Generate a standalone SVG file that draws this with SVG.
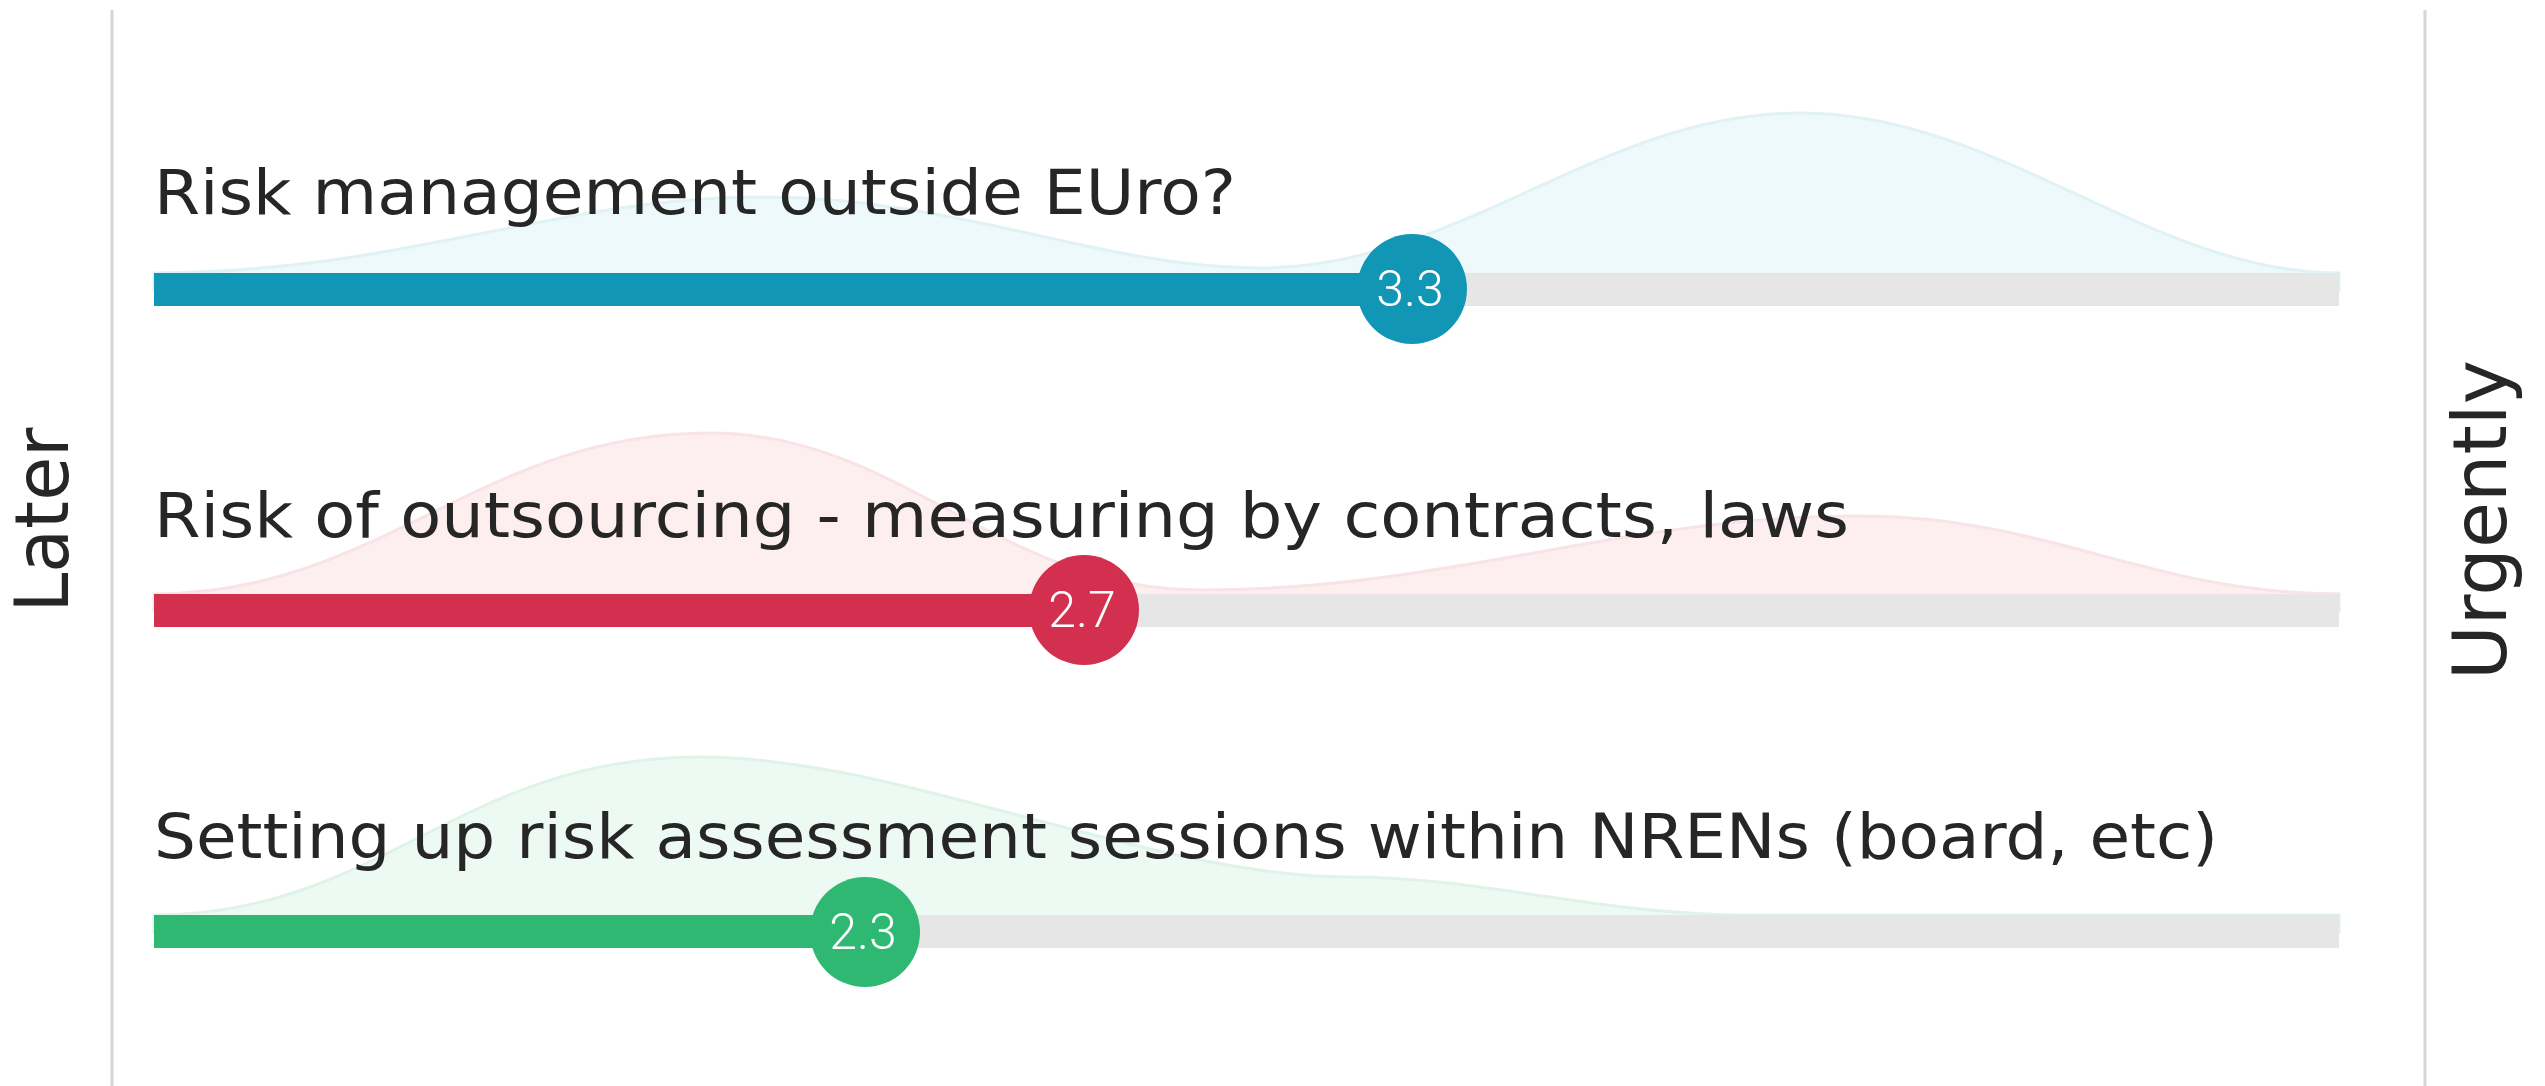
<svg xmlns="http://www.w3.org/2000/svg" width="2545" height="1086" viewBox="0 0 2545 1086">
  <style>
    .axis { stroke: #d6d6d6; stroke-width: 3; fill: none; }
    .side { font-family: "DejaVu Sans", "Liberation Sans", sans-serif; font-size: 74px; fill: #262626; }
    .label { font-family: "DejaVu Sans", "Liberation Sans", sans-serif; font-size: 62px; fill: #262626; }
    .track { fill: #e6e6e6; }
    .val { font-family: "Roboto", "Liberation Sans", sans-serif; font-size: 50px; font-weight: 300; fill: #ffffff; text-anchor: middle; }
    .blue { fill: #1197b5; }
    .red { fill: #d3304f; }
    .green { fill: #2eb872; }
    .dblue { fill: #eef9fb; stroke: #e0f2f6; stroke-width: 3; }
    .dred { fill: #fdeef0; stroke: #f8e3e7; stroke-width: 3; }
    .dgreen { fill: #edfaf3; stroke: #e0f3e9; stroke-width: 3; }
  </style>
  <rect x="0" y="0" width="2545" height="1086" fill="#ffffff"/>

  <g id="axes">
    <line class="axis" x1="112" y1="10" x2="112" y2="1086"/>
    <line class="axis" x1="2425" y1="10" x2="2425" y2="1086"/>
    <text class="side" transform="translate(68,520) rotate(-90)" text-anchor="middle" textLength="185" lengthAdjust="spacingAndGlyphs">Later</text>
    <text class="side" transform="translate(2506,520) rotate(-90)" text-anchor="middle" textLength="320" lengthAdjust="spacingAndGlyphs">Urgently</text>
  </g>

  <g id="row1">
    <path class="dblue" d="M154,273 C400,273 560,197 760,197 C960,197 1100,268 1260,268 C1460,268 1600,113 1800,113 C2000,113 2150,273 2339,273 L2339,290 L154,290 Z"/>
    <text class="label" x="154" y="214" textLength="1082" lengthAdjust="spacingAndGlyphs">Risk management outside EUro?</text>
    <rect class="track" x="154" y="273" width="2185" height="33"/>
    <rect class="blue" x="154" y="273" width="1258" height="33"/>
    <circle class="blue" cx="1412" cy="289" r="55"/>
    <text class="val" x="1410" y="306">3.3</text>
  </g>

  <g id="row2">
    <path class="dred" d="M154,594 C380,594 480,433 710,433 C900,433 1000,590 1200,590 C1450,590 1620,516 1860,516 C2050,516 2150,594 2339,594 L2339,611 L154,611 Z"/>
    <text class="label" x="154" y="537" textLength="1695" lengthAdjust="spacingAndGlyphs">Risk of outsourcing - measuring by contracts, laws</text>
    <rect class="track" x="154" y="594" width="2185" height="33"/>
    <rect class="red" x="154" y="594" width="930" height="33"/>
    <circle class="red" cx="1084" cy="610" r="55"/>
    <text class="val" x="1082" y="627">2.7</text>
  </g>

  <g id="row3">
    <path class="dgreen" d="M154,915 C380,915 460,757 700,757 C900,757 1150,877 1350,877 C1480,877 1600,915 1750,915 L2339,915 L2339,932 L154,932 Z"/>
    <text class="label" x="154" y="858" textLength="2064" lengthAdjust="spacingAndGlyphs">Setting up risk assessment sessions within NRENs (board, etc)</text>
    <rect class="track" x="154" y="915" width="2185" height="33"/>
    <rect class="green" x="154" y="915" width="711" height="33"/>
    <circle class="green" cx="865" cy="932" r="55"/>
    <text class="val" x="863" y="949">2.3</text>
  </g>
</svg>
